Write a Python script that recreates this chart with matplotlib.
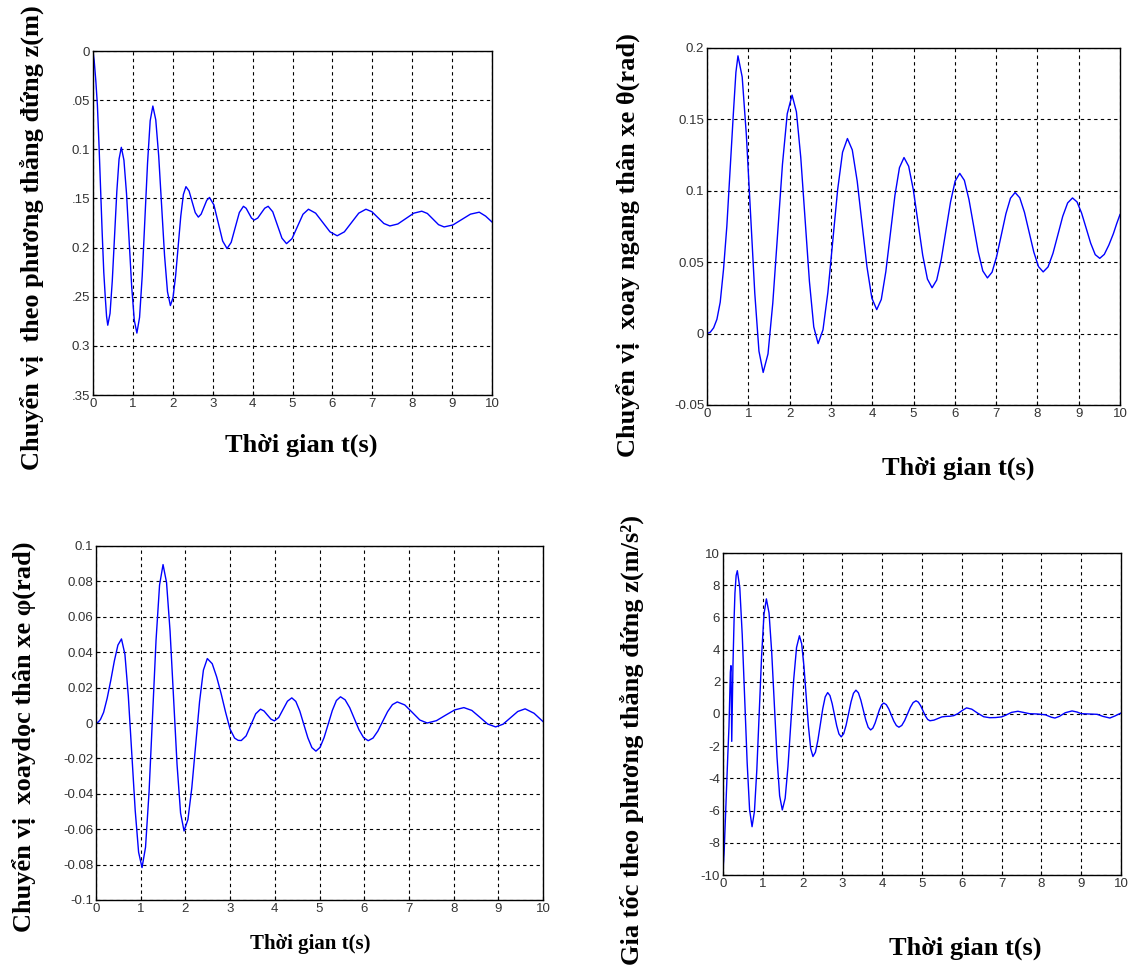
import matplotlib.pyplot as plt

# vertical displacement z (m), shown as depth below 0 (axis runs downwards)
t_z = [0, 0.03, 0.07, 0.11, 0.15, 0.19, 0.23, 0.27, 0.31, 0.34, 0.37,
       0.427, 0.483, 0.54, 0.597, 0.653, 0.71,
       0.775, 0.84, 0.905, 0.97, 1.035, 1.10,
       1.167, 1.233, 1.30, 1.367, 1.433, 1.50,
       1.573, 1.647, 1.72, 1.793, 1.867, 1.94,
       2.005, 2.07, 2.135, 2.20, 2.265, 2.33,
       2.408, 2.485, 2.563, 2.64, 2.71, 2.78, 2.85, 2.92,
       3.03, 3.14, 3.25, 3.36, 3.463, 3.565, 3.668, 3.77,
       3.838, 3.905, 3.973, 4.04, 4.128, 4.215, 4.303, 4.39,
       4.505, 4.62, 4.735, 4.85, 4.988, 5.125, 5.263, 5.40,
       5.58, 5.76, 5.94, 6.12, 6.30, 6.48, 6.66, 6.84,
       6.99, 7.14, 7.29, 7.44, 7.64, 7.84, 8.04, 8.24,
       8.38, 8.52, 8.66, 8.80, 9.02, 9.24, 9.46, 9.68, 9.84, 10.0]
z_depth = [0, 0.01, 0.03, 0.055, 0.095, 0.14, 0.185, 0.225, 0.252, 0.27, 0.279,
           0.267, 0.234, 0.1885, 0.143, 0.110, 0.098,
           0.111, 0.145, 0.1925, 0.240, 0.274, 0.287,
           0.271, 0.229, 0.1715, 0.114, 0.071, 0.056,
           0.070, 0.107, 0.1575, 0.208, 0.245, 0.259,
           0.251, 0.229, 0.1985, 0.168, 0.146, 0.138,
           0.1425, 0.1535, 0.1645, 0.169, 0.166, 0.159, 0.152, 0.149,
           0.1566, 0.175, 0.1934, 0.201, 0.1947, 0.1795, 0.1643, 0.158,
           0.160, 0.165, 0.170, 0.172, 0.170, 0.165, 0.160, 0.158,
           0.1636, 0.177, 0.1904, 0.196, 0.1909, 0.1785, 0.1661, 0.161,
           0.165, 0.1745, 0.184, 0.188, 0.184, 0.1745, 0.165, 0.161,
           0.1635, 0.1695, 0.1755, 0.178, 0.176, 0.1705, 0.165, 0.163,
           0.1653, 0.171, 0.1767, 0.179, 0.177, 0.1715, 0.166, 0.164, 0.168, 0.174]

# roll angle theta (rad)
t_theta = [0, 0.08, 0.16, 0.24, 0.32, 0.40, 0.48, 0.56, 0.64, 0.70, 0.75,
           0.852, 0.953, 1.055, 1.157, 1.258, 1.36,
           1.477, 1.593, 1.71, 1.827, 1.943, 2.06,
           2.165, 2.27, 2.375, 2.48, 2.585, 2.69,
           2.808, 2.927, 3.045, 3.163, 3.282, 3.40,
           3.518, 3.637, 3.755, 3.873, 3.992, 4.11,
           4.22, 4.33, 4.44, 4.55, 4.66, 4.77,
           4.883, 4.997, 5.11, 5.223, 5.337, 5.45,
           5.562, 5.673, 5.785, 5.897, 6.008, 6.12,
           6.232, 6.343, 6.455, 6.567, 6.678, 6.79,
           6.902, 7.013, 7.125, 7.237, 7.348, 7.46,
           7.573, 7.687, 7.80, 7.913, 8.027, 8.14,
           8.258, 8.377, 8.495, 8.613, 8.732, 8.85,
           8.96, 9.07, 9.18, 9.29, 9.40, 9.51,
           9.62, 9.73, 9.84, 9.92, 10.0]
theta = [0, 0.001, 0.004, 0.010, 0.022, 0.045, 0.075, 0.115, 0.155, 0.183, 0.1945,
         0.1797, 0.1391, 0.0837, 0.0282, -0.0123, -0.0272,
         -0.0142, 0.0214, 0.0699, 0.1185, 0.1540, 0.167,
         0.1553, 0.1235, 0.080, 0.0365, 0.0047, -0.007,
         0.0026, 0.0289, 0.0648, 0.1007, 0.1270, 0.1366,
         0.1286, 0.1067, 0.0767, 0.0468, 0.0248, 0.0168,
         0.0239, 0.0434, 0.0700, 0.0967, 0.1162, 0.1233,
         0.1172, 0.1005, 0.0777, 0.0549, 0.0382, 0.0321,
         0.0375, 0.0521, 0.0722, 0.0922, 0.1068, 0.1122,
         0.1073, 0.0939, 0.0756, 0.0573, 0.0439, 0.039,
         0.0430, 0.0540, 0.0689, 0.0839, 0.0948, 0.0988,
         0.0951, 0.0849, 0.071, 0.0571, 0.0469, 0.0432,
         0.0467, 0.0562, 0.0691, 0.0821, 0.0915, 0.095,
         0.0922, 0.0844, 0.0739, 0.0633, 0.0553, 0.0527,
         0.0555, 0.062, 0.070, 0.077, 0.0834]

# pitch angle phi (rad)
t_phi = [0, 0.05, 0.1, 0.17, 0.25, 0.33, 0.41, 0.49, 0.57,
         0.647, 0.723, 0.80, 0.877, 0.953, 1.03,
         1.108, 1.187, 1.265, 1.343, 1.422, 1.50,
         1.578, 1.657, 1.735, 1.813, 1.892, 1.97,
         2.057, 2.143, 2.23, 2.317, 2.403, 2.49,
         2.6, 2.7, 2.8, 2.9, 3.0, 3.1, 3.18, 3.25,
         3.358, 3.465, 3.573, 3.68, 3.758, 3.835, 3.913, 3.99,
         4.088, 4.185, 4.283, 4.38,
         4.47, 4.56, 4.65, 4.74, 4.83, 4.92,
         5.012, 5.103, 5.195, 5.287, 5.378, 5.47,
         5.573, 5.677, 5.78, 5.883, 5.987, 6.09,
         6.198, 6.307, 6.415, 6.523, 6.632, 6.74,
         6.908, 7.075, 7.243, 7.41, 7.615, 7.82, 8.025, 8.23,
         8.408, 8.585, 8.763, 8.94, 9.105, 9.27, 9.435, 9.60, 9.8, 10.0]
phi = [0, 0.0005, 0.002, 0.006, 0.014, 0.024, 0.035, 0.044, 0.0475,
       0.0388, 0.0152, -0.0171, -0.0494, -0.0730, -0.0817,
       -0.0702, -0.0389, 0.0039, 0.0467, 0.0780, 0.0895,
       0.0794, 0.0519, 0.0143, -0.0234, -0.0509, -0.061,
       -0.0545, -0.0367, -0.0123, 0.0121, 0.0299, 0.0364,
       0.0335, 0.026, 0.0165, 0.006, -0.0035, -0.0085, -0.0098, -0.0099,
       -0.0073, -0.0011, 0.0052, 0.0078, 0.0068, 0.0045, 0.0022, 0.0012,
       0.0031, 0.0077, 0.0123, 0.0142,
       0.0122, 0.0067, -0.0009, -0.0084, -0.0139, -0.0159,
       -0.0138, -0.0082, -0.0006, 0.0071, 0.0127, 0.0148,
       0.0131, 0.0086, 0.0024, -0.0038, -0.0083, -0.0100,
       -0.0085, -0.0045, 0.0010, 0.0064, 0.0104, 0.0119,
       0.0102, 0.0060, 0.0017, 0.0, 0.0013, 0.0044, 0.0074, 0.0087,
       0.0071, 0.0033, -0.0006, -0.0022, -0.0007, 0.0029, 0.0065, 0.0080, 0.0055, 0.0008]

# vertical acceleration (m/s^2)
t_acc = [0, 0.03, 0.06, 0.09, 0.12, 0.15, 0.17, 0.185, 0.2, 0.21, 0.22, 0.235, 0.25,
         0.28, 0.30, 0.33, 0.36,
         0.422, 0.483, 0.545, 0.607, 0.668, 0.73,
         0.79, 0.85, 0.91, 0.97, 1.03, 1.09,
         1.157, 1.223, 1.29, 1.357, 1.423, 1.49,
         1.562, 1.633, 1.705, 1.777, 1.848, 1.92,
         1.977, 2.033, 2.09, 2.147, 2.203, 2.26,
         2.322, 2.383, 2.445, 2.507, 2.568, 2.63,
         2.687, 2.743, 2.80, 2.857, 2.913, 2.97,
         3.032, 3.093, 3.155, 3.217, 3.278, 3.34,
         3.402, 3.463, 3.525, 3.587, 3.648, 3.71,
         3.765, 3.82, 3.875, 3.93, 3.985, 4.04,
         4.103, 4.167, 4.23, 4.293, 4.357, 4.42,
         4.492, 4.563, 4.635, 4.707, 4.778, 4.85,
         4.908, 4.967, 5.025, 5.083, 5.142, 5.20,
         5.3, 5.4, 5.5, 5.6, 5.7, 5.8, 5.9, 6.0, 6.12, 6.25, 6.4, 6.55,
         6.7, 6.85, 7.0, 7.1, 7.25, 7.41, 7.55, 7.7, 7.9, 8.1, 8.25, 8.34,
         8.45, 8.6, 8.77, 8.9, 9.0, 9.2, 9.4, 9.55, 9.72, 9.85, 10.0]
acc = [-9.8, -8.5, -6.5, -4.5, -2.6, -0.8, 1.2, 2.6, 3.0, 0.5, -1.7, 0.8, 3.0,
       6.0, 7.5, 8.6, 8.9,
       7.84, 4.925, 0.95, -3.025, -5.94, -7.0,
       -6.05, -3.46, 0.075, 3.61, 6.20, 7.15,
       6.27, 3.87, 0.60, -2.68, -5.08, -5.96,
       -5.235, -3.255, -0.55, 2.155, 4.135, 4.86,
       4.36, 2.985, 1.11, -0.765, -2.14, -2.64,
       -2.374, -1.648, -0.655, 0.338, 1.064, 1.33,
       1.146, 0.643, -0.045, -0.733, -1.236, -1.42,
       -1.226, -0.695, 0.03, 0.755, 1.286, 1.48,
       1.315, 0.863, 0.245, -0.373, -0.825, -0.99,
       -0.878, -0.573, -0.155, 0.263, 0.568, 0.68,
       0.58, 0.305, -0.07, -0.445, -0.72, -0.82,
       -0.71, -0.41, 0.0, 0.41, 0.71, 0.82,
       0.737, 0.51, 0.2, -0.11, -0.337, -0.42,
       -0.38, -0.28, -0.18, -0.15, -0.14, -0.1, 0.02, 0.2, 0.38, 0.30, 0.05, -0.17,
       -0.23, -0.22, -0.18, -0.08, 0.10, 0.17, 0.10, 0.02, 0.0, -0.05, -0.2, -0.25,
       -0.15, 0.08, 0.19, 0.12, 0.02, 0.0, -0.02, -0.15, -0.25, -0.12, 0.06]

x_ticks = list(range(0, 11))
z_ticks = [0, 0.05, 0.1, 0.15, 0.2, 0.25, 0.3, 0.35]
z_tick_labels = ["0", ".05", "0.1", ".15", "0.2", ".25", "0.3", ".35"]
theta_ticks = [-0.05, 0, 0.05, 0.1, 0.15, 0.2]
theta_tick_labels = ["-0.05", "0", "0.05", "0.1", "0.15", "0.2"]
phi_ticks = [-0.1, -0.08, -0.06, -0.04, -0.02, 0, 0.02, 0.04, 0.06, 0.08, 0.1]
phi_tick_labels = ["-0.1", "-0.08", "-0.06", "-0.04", "-0.02", "0",
                   "0.02", "0.04", "0.06", "0.08", "0.1"]
acc_ticks = [-10, -8, -6, -4, -2, 0, 2, 4, 6, 8, 10]

W, H = 1129, 965
serif = "Liberation Serif"
sans = "Liberation Sans"


def px_axes(fig, left, top, right, bottom):
    return fig.add_axes([left / W, 1 - bottom / H, (right - left) / W, (bottom - top) / H])


def style(ax, yticks, ylabels, ylim):
    ax.set_xlim(0, 10)
    ax.set_ylim(*ylim)
    ax.set_xticks(x_ticks)
    ax.set_xticklabels([str(v) for v in x_ticks])
    ax.set_yticks(yticks)
    ax.set_yticklabels(ylabels)
    ax.tick_params(direction="in", length=3, width=0.8, labelsize=9.5,
                   labelcolor="#333333", pad=2)
    for lab in ax.get_xticklabels() + ax.get_yticklabels():
        lab.set_family(sans)
    ax.grid(True, color="black", linestyle=(0, (3, 3)), linewidth=0.8)
    for sp in ax.spines.values():
        sp.set_linewidth(1.0)


fig = plt.figure(figsize=(W / 100, H / 100), dpi=100)
line_kw = dict(color="#0000ff", linewidth=1.0)
title_kw = dict(family=serif, fontweight="bold", ha="center", va="center")

ax1 = px_axes(fig, 93, 51, 492, 395)
ax1.plot(t_z, z_depth, **line_kw)
style(ax1, z_ticks, z_tick_labels, (0.35, 0))
fig.text(32 / W, 1 - 238 / H, "Chuyển vị  theo phương thẳng đứng z(m)",
         rotation=90, fontsize=19, **title_kw)
fig.text(301 / W, 1 - 445 / H, "Thời gian t(s)", fontsize=19, **title_kw)

ax2 = px_axes(fig, 707, 48, 1120, 405)
ax2.plot(t_theta, theta, **line_kw)
style(ax2, theta_ticks, theta_tick_labels, (-0.05, 0.2))
fig.text(628 / W, 1 - 245 / H, "Chuyển vị  xoay ngang thân xe θ(rad)",
         rotation=90, fontsize=19, **title_kw)
fig.text(958 / W, 1 - 468 / H, "Thời gian t(s)", fontsize=19, **title_kw)

ax3 = px_axes(fig, 96, 546, 543, 900)
ax3.plot(t_phi, phi, **line_kw)
style(ax3, phi_ticks, phi_tick_labels, (-0.1, 0.1))
fig.text(24 / W, 1 - 737 / H, "Chuyển vị  xoaydọc thân xe φ(rad)",
         rotation=90, fontsize=19, **title_kw)
fig.text(310 / W, 1 - 944 / H, "Thời gian t(s)", fontsize=15, **title_kw)

ax4 = px_axes(fig, 723, 553, 1121, 875)
ax4.plot(t_acc, acc, **line_kw)
style(ax4, acc_ticks, [str(v) for v in acc_ticks], (-10, 10))
fig.text(632 / W, 1 - 740 / H, "Gia tốc theo phương thẳng đứng z(m/s²)",
         rotation=90, fontsize=19, **title_kw)
fig.text(965 / W, 1 - 948 / H, "Thời gian t(s)", fontsize=19, **title_kw)

fig.savefig("out.png", dpi=100, facecolor="white")
